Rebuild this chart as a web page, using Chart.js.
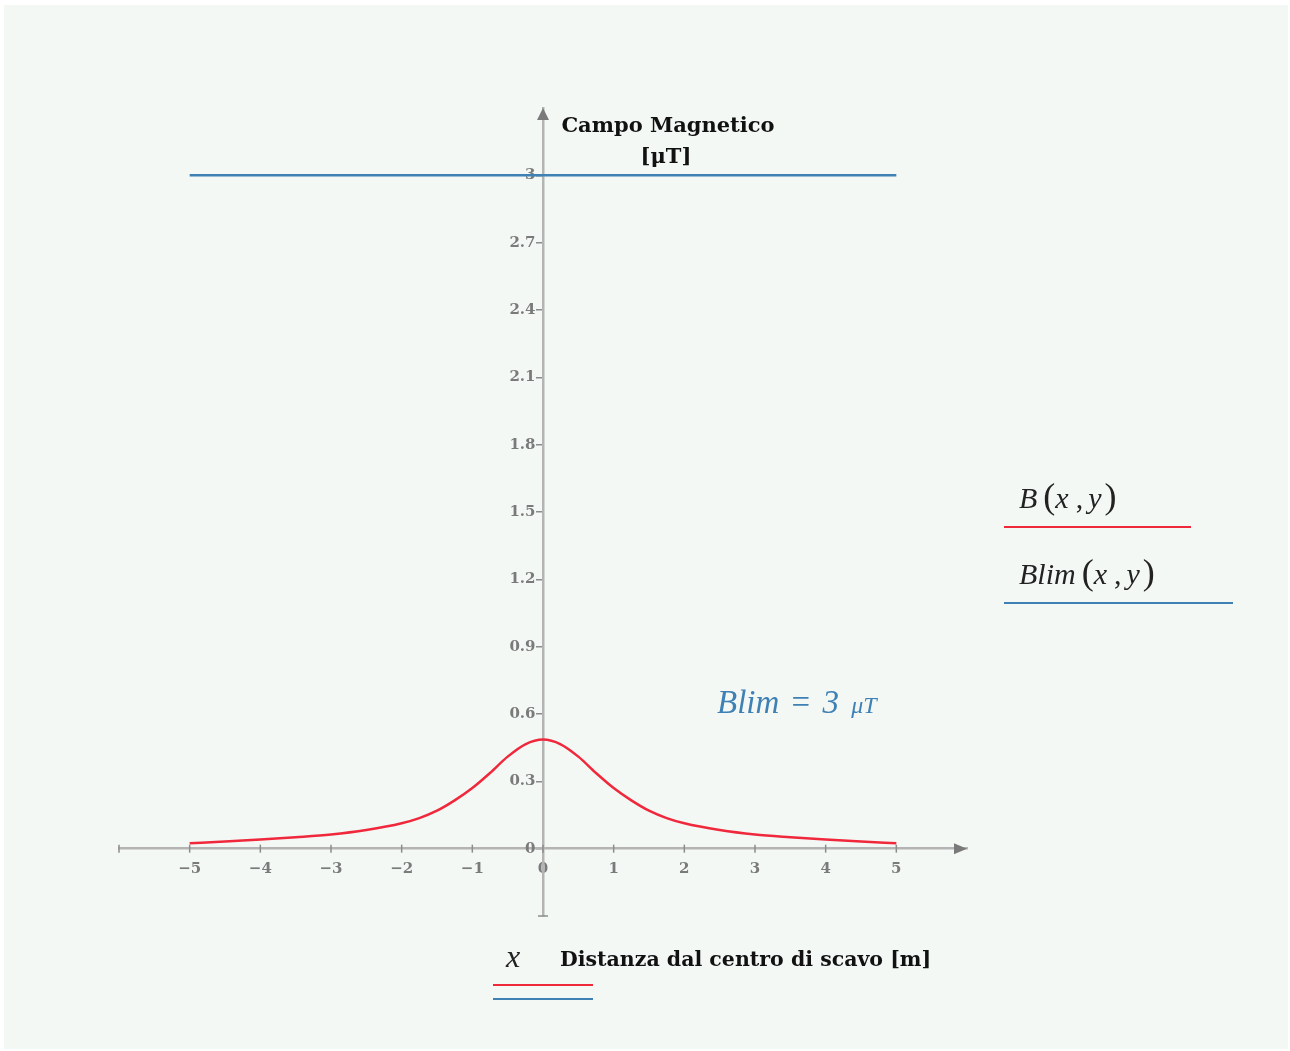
<!DOCTYPE html>
<html>
<head>
<meta charset="utf-8">
<script src="https://cdn.jsdelivr.net/npm/chart.js@4.4.1/dist/chart.umd.min.js"></script>
<style>
  body { margin: 0; background: #fff; width: 1290px; height: 1051px; position: relative; overflow: hidden; }
  #panel { position: absolute; left: 4px; top: 5px; width: 1284px; height: 1044px; background: #f4f8f5; }
  #c { position: absolute; left: 0; top: 0; }
  .t { position: absolute; white-space: nowrap; line-height: 1; }
  .bold { font-family: "DejaVu Serif", serif; font-weight: bold; color: #111; }
  .math { font-family: "Liberation Serif", serif; font-style: italic; color: #222; }
  .par { font-style: normal; font-size: 36px; line-height: 0; }
  .up { font-style: normal; }
  .ln { position: absolute; height: 2px; }
</style>
</head>
<body>
<div id="panel"></div>
<canvas id="c" width="1290" height="1051"></canvas>

<!-- titoli degli assi -->
<div class="t bold" style="left:668px; top:114px; font-size:21px; transform:translateX(-50%);">Campo Magnetico</div>
<div class="t bold" style="left:666px; top:145px; font-size:21px; transform:translateX(-50%);">[μT]</div>
<div class="t bold" style="left:560px; top:949px; font-size:20.5px;">Distanza dal centro di scavo [m]</div>
<div class="t math" style="left:506px; top:940px; font-size:32px;">x</div>
<div class="ln" style="left:493px; top:984px; width:100px; background:#f0283c;"></div>
<div class="ln" style="left:493px; top:998px; width:100px; background:#3f80b5;"></div>

<!-- legenda -->
<div class="t math" style="left:1019px; top:483px; font-size:30px;">B<span class="par" style="margin-left:6px;">(</span>x<span class="up" style="margin-left:7px;">,</span><span style="margin-left:5px;">y</span><span class="par" style="margin-left:3px;">)</span></div>
<div class="ln" style="left:1004px; top:526px; width:187px; background:#f0283c;"></div>
<div class="t math" style="left:1019px; top:559px; font-size:30px;">Blim<span class="par" style="margin-left:6px;">(</span>x<span class="up" style="margin-left:7px;">,</span><span style="margin-left:5px;">y</span><span class="par" style="margin-left:3px;">)</span></div>
<div class="ln" style="left:1004px; top:602px; width:229px; background:#3f80b5;"></div>

<!-- annotazione -->
<div class="t math" style="left:717px; top:686px; font-size:33px; color:#3f80b5; word-spacing:4px;">Blim <span class="up">=</span> 3 <span style="font-size:24px;">μT</span></div>

<script>
// dati
const xVals = [-5, -4.5, -4, -3.5, -3, -2.5, -2, -1.75, -1.5, -1.25, -1, -0.75, -0.5, -0.25, 0,
               0.25, 0.5, 0.75, 1, 1.25, 1.5, 1.75, 2, 2.5, 3, 3.5, 4, 4.5, 5];
const bVals = [0.024, 0.032, 0.041, 0.051, 0.063, 0.083, 0.113, 0.136, 0.169, 0.215, 0.27, 0.337, 0.41, 0.465, 0.486,
               0.465, 0.41, 0.337, 0.27, 0.215, 0.169, 0.136, 0.113, 0.083, 0.063, 0.051, 0.041, 0.032, 0.024];
const blimX = [-5, 5];
const blimVals = [3, 3];
const xTicks = [-5, -4, -3, -2, -1, 0, 1, 2, 3, 4, 5];
const yTicks = [0, 0.3, 0.6, 0.9, 1.2, 1.5, 1.8, 2.1, 2.4, 2.7, 3];

const axisColor = '#b4b4b4';
const tickColor = '#8c8c8c';
const labelFont = { family: 'DejaVu Serif', weight: 'bold', size: 15 };

// frecce e tacche dell'asse x
const axisExtras = {
  id: 'axisExtras',
  afterDraw(chart) {
    const ctx = chart.ctx;
    const sx = chart.scales.x, sy = chart.scales.y;
    const x0 = sx.getPixelForValue(0), y0 = sy.getPixelForValue(0);
    ctx.save();
    ctx.strokeStyle = tickColor;
    ctx.lineWidth = 1.5;
    [-6].concat(xTicks).forEach(v => {
      const px = sx.getPixelForValue(v);
      ctx.beginPath();
      ctx.moveTo(px, y0 - 4);
      ctx.lineTo(px, y0 + 4);
      ctx.stroke();
    });
    const yb = sy.getPixelForValue(-0.3);
    ctx.beginPath();
    ctx.moveTo(x0 - 5, yb);
    ctx.lineTo(x0 + 5, yb);
    ctx.stroke();

    ctx.fillStyle = '#7a7a7a';
    const xr = sx.getPixelForValue(6);
    ctx.beginPath();
    ctx.moveTo(xr, y0);
    ctx.lineTo(xr - 13, y0 - 5.5);
    ctx.lineTo(xr - 13, y0 + 5.5);
    ctx.closePath();
    ctx.fill();
    const yt = sy.getPixelForValue(3.3);
    ctx.beginPath();
    ctx.moveTo(x0, yt);
    ctx.lineTo(x0 - 6, yt + 12);
    ctx.lineTo(x0 + 6, yt + 12);
    ctx.closePath();
    ctx.fill();
    ctx.restore();
  }
};

new Chart(document.getElementById('c'), {
  type: 'line',
  data: {
    datasets: [
      {
        label: 'B(x,y)',
        data: xVals.map((x, i) => ({ x: x, y: bVals[i] })),
        borderColor: '#f0283c',
        borderWidth: 2.5,
        pointRadius: 0,
        cubicInterpolationMode: 'monotone',
        fill: false
      },
      {
        label: 'Blim(x,y)',
        data: blimX.map((x, i) => ({ x: x, y: blimVals[i] })),
        borderColor: '#3f80b5',
        borderWidth: 2.5,
        pointRadius: 0,
        fill: false
      }
    ]
  },
  options: {
    responsive: false,
    animation: false,
    layout: { padding: { left: 119, right: 323, top: 108, bottom: 135 } },
    plugins: { legend: { display: false }, tooltip: { enabled: false } },
    scales: {
      x: {
        type: 'linear', min: -6, max: 6,
        position: { y: 0 },
        afterBuildTicks: s => { s.ticks = xTicks.map(v => ({ value: v })); },
        grid: { display: false },
        border: { display: true, color: axisColor, width: 2.5 },
        ticks: {
          autoSkip: false, maxRotation: 0, padding: 3,
          color: '#7a7a7a', font: labelFont,
          callback: v => String(v).replace('-', '\u2212')
        }
      },
      y: {
        type: 'linear', min: -0.3, max: 3.3,
        position: { x: 0 },
        afterBuildTicks: s => { s.ticks = yTicks.map(v => ({ value: v })); },
        grid: { display: true, drawOnChartArea: false, drawTicks: true, tickLength: 6, color: tickColor, lineWidth: 1.5 },
        border: { display: true, color: axisColor, width: 2.5 },
        ticks: {
          autoSkip: false,
          color: '#7a7a7a', font: labelFont,
          // etichette allineate a destra sull'asse: spazio finale per staccarle
          callback: v => String(Math.round(v * 10) / 10) + '\u2002'
        }
      }
    }
  },
  plugins: [axisExtras]
});
</script>
</body>
</html>
